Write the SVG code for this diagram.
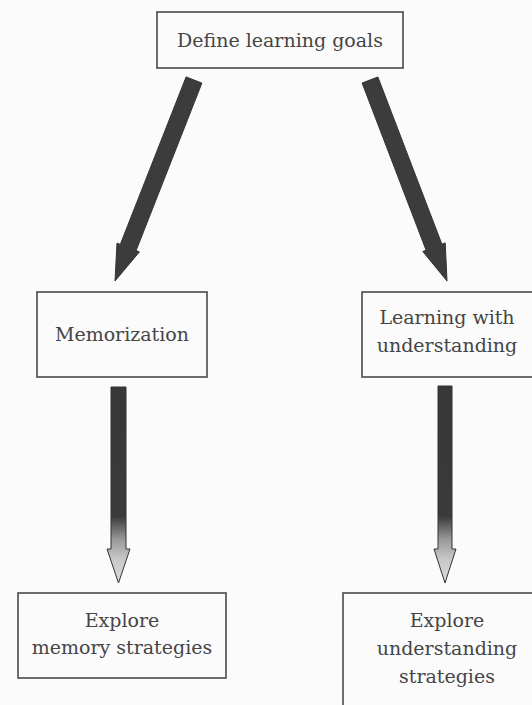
<svg xmlns="http://www.w3.org/2000/svg" width="532" height="705" viewBox="0 0 532 705">
<style>
.box{fill:none;stroke:#4a4a4a;stroke-width:1.6}
.t{font-family:"DejaVu Serif","Liberation Serif",serif;font-size:19px;fill:#454545;text-anchor:middle}
.diag{fill:#3c3c3c;stroke:#333;stroke-width:1}
.vert{stroke:#333;stroke-width:1}
</style>
<defs>
<linearGradient id="fade" x1="0" y1="0" x2="0" y2="1">
<stop offset="0" stop-color="#383838"/>
<stop offset="0.66" stop-color="#3a3a3a"/>
<stop offset="0.78" stop-color="#9a9a9a"/>
<stop offset="0.88" stop-color="#c8c8c8"/>
<stop offset="1" stop-color="#dadada"/>
</linearGradient>
</defs>
<rect x="0" y="0" width="532" height="705" fill="#fbfbfb"/>
<g id="connectors">
<polygon class="diag" points="186.1,76.9 201.9,83.1 136.1,250.6 139.4,251.9 115,281 117,243.1 120.3,244.4"/>
<polygon class="diag" points="362.1,83 377.9,77 441.9,244.2 445.2,242.9 447,281 422.8,251.5 426.1,250.2"/>
<polygon class="vert" fill="url(#fade)" points="111,387 126,387 126,549 130,549 118.5,583 107,549 111,549"/>
<polygon class="vert" fill="url(#fade)" points="438,386 452,386 452,549 456,549 445,583 434,549 438,549"/>
</g>
<g id="node-goals">
<rect class="box" x="157" y="12" width="246" height="56"/>
<text class="t" x="280" y="47">Define learning goals</text>
</g>
<g id="node-memorization">
<rect class="box" x="37" y="292" width="170" height="85"/>
<text class="t" x="122" y="341">Memorization</text>
</g>
<g id="node-understanding">
<rect class="box" x="362" y="292" width="185" height="85"/>
<text class="t" x="447" y="324">Learning with</text>
<text class="t" x="447" y="352">understanding</text>
</g>
<g id="node-memory-strategies">
<rect class="box" x="18" y="593" width="208" height="85"/>
<text class="t" x="122" y="627">Explore</text>
<text class="t" x="122" y="654">memory strategies</text>
</g>
<g id="node-understanding-strategies">
<rect class="box" x="343" y="593" width="210" height="130"/>
<text class="t" x="447" y="627">Explore</text>
<text class="t" x="447" y="655">understanding</text>
<text class="t" x="447" y="683">strategies</text>
</g>
</svg>
